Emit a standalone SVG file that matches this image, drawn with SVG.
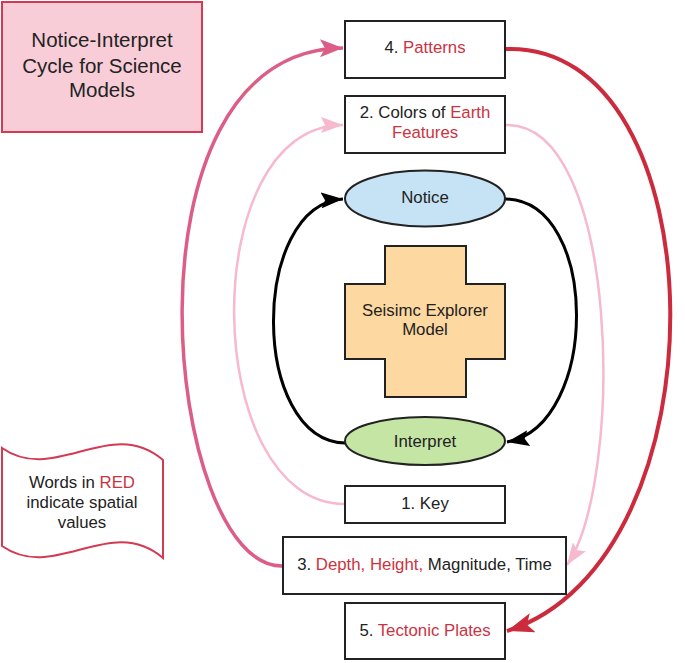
<svg xmlns="http://www.w3.org/2000/svg" width="685" height="663" viewBox="0 0 685 663">
<style>
text{font-family:"Liberation Sans",Arial,sans-serif;font-size:16.8px;fill:#222;text-anchor:middle}
.r{fill:#cc3341}
.box{fill:#fff;stroke:#222;stroke-width:2}
</style>
<defs>
<marker id="ab" markerUnits="userSpaceOnUse" markerWidth="24" markerHeight="16" refX="22" refY="8" orient="auto"><path d="M0,0 L22,8 L0,16 L4,8 Z" fill="#000"/></marker>
<marker id="al" markerUnits="userSpaceOnUse" markerWidth="24" markerHeight="16" refX="22" refY="8" orient="auto"><path d="M0,0 L22,8 L0,16 L4,8 Z" fill="#f6b9cd"/></marker>
<marker id="am" markerUnits="userSpaceOnUse" markerWidth="24" markerHeight="18" refX="23" refY="9" orient="auto"><path d="M0,0 L23,9 L0,18 L5,9 Z" fill="#dc5d85"/></marker>
<marker id="ar" markerUnits="userSpaceOnUse" markerWidth="28" markerHeight="20" refX="27" refY="10" orient="auto"><path d="M0,0 L27,10 L0,20 L6,10 Z" fill="#cc2b3d"/></marker>
</defs>
<rect width="685" height="663" fill="#fff"/>
<g id="connectors">
<path d="M283,566 C165,570 112,50 343,48" stroke="#dc5d85" stroke-width="3.5" fill="none" marker-end="url(#am)"/>
<path d="M345,504 C200,504 195,125 343,125" stroke="#f6b9cd" stroke-width="2.5" fill="none" marker-end="url(#al)"/>
<path d="M505,125 C620,120 625,480 567,565" stroke="#f6b9cd" stroke-width="2.5" fill="none" marker-end="url(#al)"/>
<path d="M505,49 C720,40 730,560 507,631" stroke="#cc2b3d" stroke-width="4" fill="none" marker-end="url(#ar)"/>
<path d="M505,199 C600,200 600,425 507,442" stroke="#000" stroke-width="3" fill="none" marker-end="url(#ab)"/>
<path d="M345,443 C250,440 250,205 343,199" stroke="#000" stroke-width="3" fill="none" marker-end="url(#ab)"/>
</g>
<g id="title">
<rect x="2" y="2" width="200" height="130" fill="#f8cdd8" stroke="#d43a52" stroke-width="2"/>
<text x="102" y="47" style="font-size:20.5px">Notice-Interpret</text>
<text x="102" y="73" style="font-size:20.5px">Cycle for Science</text>
<text x="102" y="97" style="font-size:20.5px">Models</text>
</g>
<g id="legend">
<path d="M2,448 C55,485 110,415 163,460 L163,558 C110,513 55,583 2,546 Z" fill="#fff" stroke="#d43a52" stroke-width="2"/>
<text x="82" y="488">Words in <tspan class="r">RED</tspan></text>
<text x="82" y="508">indicate spatial</text>
<text x="82" y="528">values</text>
</g>
<g id="n4">
<rect class="box" x="345" y="21" width="160" height="57"/>
<text x="425" y="53">4. <tspan class="r">Patterns</tspan></text>
</g>
<g id="n2">
<rect class="box" x="345" y="96" width="160" height="57"/>
<text x="425" y="118">2. Colors of <tspan class="r">Earth</tspan></text>
<text x="425" y="138" class="r">Features</text>
</g>
<g id="notice">
<ellipse cx="425" cy="198.5" rx="80" ry="28" fill="#c6e2f5" stroke="#222" stroke-width="2"/>
<text x="425" y="203">Notice</text>
</g>
<g id="model">
<path d="M385,246 H466 V284 H505 V359 H466 V397 H385 V359 H345 V284 H385 Z" fill="#fdd8a0" stroke="#222" stroke-width="2"/>
<text x="425" y="316">Seisimc Explorer</text>
<text x="425" y="335">Model</text>
</g>
<g id="interpret">
<ellipse cx="425" cy="441" rx="80" ry="24" fill="#c5e5a5" stroke="#222" stroke-width="2"/>
<text x="425" y="447">Interpret</text>
</g>
<g id="n1">
<rect class="box" x="345" y="486" width="160" height="37"/>
<text x="425" y="509">1. Key</text>
</g>
<g id="n3">
<rect class="box" x="283" y="537" width="283" height="57"/>
<text x="424.5" y="570">3. <tspan class="r">Depth, Height,</tspan> Magnitude, Time</text>
</g>
<g id="n5">
<rect class="box" x="345" y="603" width="160" height="56"/>
<text x="425" y="636">5. <tspan class="r">Tectonic Plates</tspan></text>
</g>
</svg>
